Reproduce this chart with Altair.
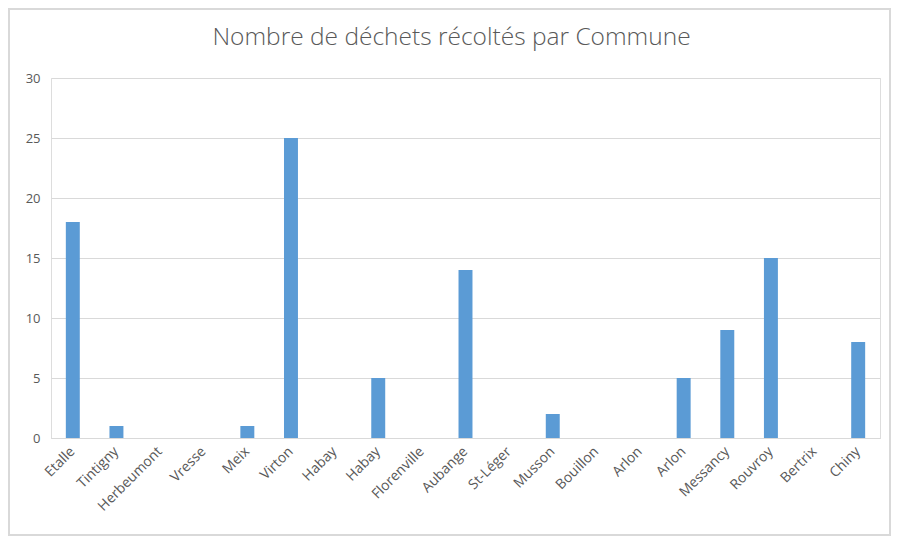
import altair as alt
import pandas as pd

communes = ["Etalle", "Tintigny", "Herbeumont", "Vresse", "Meix", "Virton", "Habay", "Habay",
            "Florenville", "Aubange", "St-Léger", "Musson", "Bouillon", "Arlon", "Arlon",
            "Messancy", "Rouvroy", "Bertrix", "Chiny"]
dechets = [18, 1, 0, 0, 1, 25, 0, 5, 0, 14, 0, 2, 0, 0, 5, 9, 15, 0, 8]
y_ticks = [0, 5, 10, 15, 20, 25, 30]

df = pd.DataFrame({"idx": list(range(len(communes))), "commune": communes, "valeur": dechets})

label_map = "[" + ",".join('"%s"' % c for c in communes) + "]"

W, H = 829, 360
GRAY = "#595959"
FONT = "Open Sans"

bars = alt.Chart(df).mark_bar(color="#5B9BD5").encode(
    x=alt.X("idx:O", scale=alt.Scale(paddingInner=0.68, paddingOuter=0.34),
            axis=alt.Axis(title=None, labelAngle=-45, labelAlign="right", labelBaseline="middle",
                          labelExpr=label_map + "[datum.value]", ticks=False,
                          domainColor="#d9d9d9", labelColor=GRAY, labelFont=FONT,
                          labelFontSize=14, labelPadding=11)),
    y=alt.Y("valeur:Q", scale=alt.Scale(domain=[0, 30], nice=False),
            axis=alt.Axis(title=None, values=y_ticks, grid=True, gridColor="#d9d9d9",
                          domain=False, ticks=False, labelColor=GRAY, labelFont=FONT,
                          labelFontSize=13, labelPadding=11)),
)

frame = alt.Chart(df).mark_rect(fill=None, stroke="#d9d9d9", strokeWidth=1.5).encode(
    x=alt.value(-42), x2=alt.value(839), y=alt.value(-69), y2=alt.value(457)
)

chart = alt.layer(frame, bars).properties(
    width=W, height=H,
    title=alt.TitleParams("Nombre de déchets récoltés par Commune", font=FONT, fontSize=24.5,
                          fontWeight=300, color=GRAY, anchor="middle", dx=-14, offset=-42),
    autosize=alt.AutoSizeParams(type="none"),
    padding={"left": 43, "top": 70, "right": 11, "bottom": 98},
).configure_view(stroke=None).configure(background="white")

chart.save("out.html", embed_options={"renderer": "svg", "actions": False})
